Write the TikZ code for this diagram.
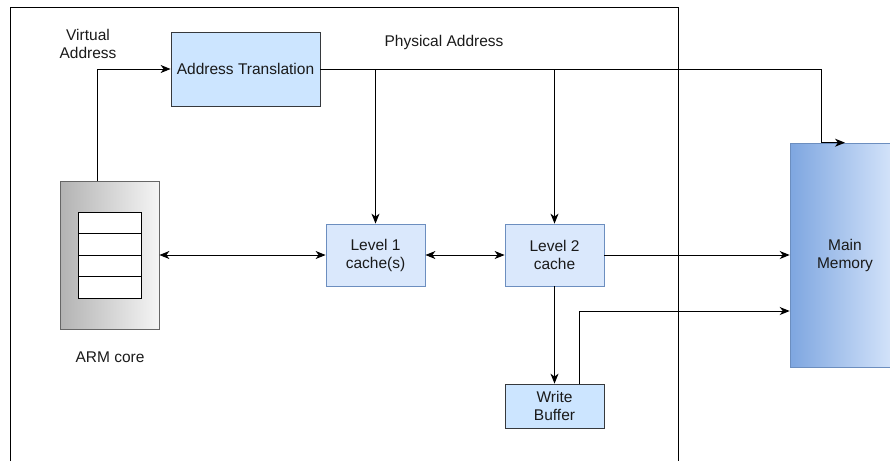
\documentclass[tikz,border=0pt]{standalone}
\usepackage{fontspec}
\setmainfont{Liberation Sans}
\usetikzlibrary{arrows.meta,calc}
\definecolor{edgec}{HTML}{000000}
\definecolor{boxblue}{HTML}{CCE5FF}
\definecolor{boxgray}{HTML}{36393D}
\definecolor{cachefill}{HTML}{DAE8FC}
\definecolor{cacheline}{HTML}{6C8EBF}
\definecolor{memdark}{HTML}{7EA6E0}
\definecolor{txt}{HTML}{1A1A1A}
\tikzset{
  every node/.style={font=\fontsize{15.5}{18}\selectfont, text=txt, align=center, inner sep=0pt},
  unitbox/.style={draw=boxgray, fill=boxblue, line width=0.8pt},
  cachebox/.style={draw=cacheline, fill=cachefill, line width=0.8pt},
  arr/.style={draw=edgec, line width=1pt, -{Stealth[length=10pt,width=8pt,inset=3pt]}},
  arrboth/.style={draw=edgec, line width=1pt, {Stealth[length=10pt,width=8pt,inset=3pt]}-{Stealth[length=10pt,width=8pt,inset=3pt]}},
}
\begin{document}
\begin{tikzpicture}[x=1pt,y=-1pt]
\useasboundingbox (0,0) rectangle (890,461);

% enclosing frame (open at the bottom of the page)
\draw[line width=1pt] (10,461) -- (10,7) -- (678,7) -- (678,461);

% blocks
\node[unitbox, minimum width=149, minimum height=74] (at) at (245.5,69) {Address Translation};
\node[draw=black!60, line width=0.8pt, shading=axis, left color=black!30, right color=black!4,
      minimum width=99, minimum height=148] (arm) at (109.5,255) {};
\node[cachebox, minimum width=99, minimum height=62] (l1) at (375.5,255) {Level 1\\cache(s)};
\node[cachebox, minimum width=99, minimum height=62] (l2) at (554.5,255) {Level 2\\cache};
\node[unitbox, minimum width=99, minimum height=44] (wb) at (554.5,406) {Write\\Buffer};
\node[draw=cacheline, line width=0.6pt, shading=axis, left color=memdark, right color=cachefill,
      minimum width=110, minimum height=224] (mm) at (845,255) {Main\\Memory};

% register file inside the core
\draw[line width=1pt, fill=white] (78,212) rectangle (141,298);
\foreach \yy in {233.5,255,276.5} \draw[line width=1pt] (78,\yy) -- (141,\yy);

% labels
\node (va) at (88,44) {Virtual\\Address};
\node (armlbl) at (110,357) {ARM core};
\node (pa) at (444,42) {Physical Address};

% connectors
\draw[arr] ([xshift=-12.5]arm.north) |- (at.west);
\draw[arr] (at.east) -| ([xshift=-24]mm.north) -- (mm.north);
\draw[arr] (l1.north |- at.east) -- (l1.north);
\draw[arr] (l2.north |- at.east) -- (l2.north);
\draw[arrboth] (arm.east) -- (l1.west);
\draw[arrboth] (l1.east) -- (l2.west);
\draw[arr] (l2.east) -- (mm.west);
\draw[arr] (l2.south) -- (wb.north);
\draw[arr] ([xshift=24.5]wb.north) |- ([yshift=-56]mm.west);
\end{tikzpicture}
\end{document}
